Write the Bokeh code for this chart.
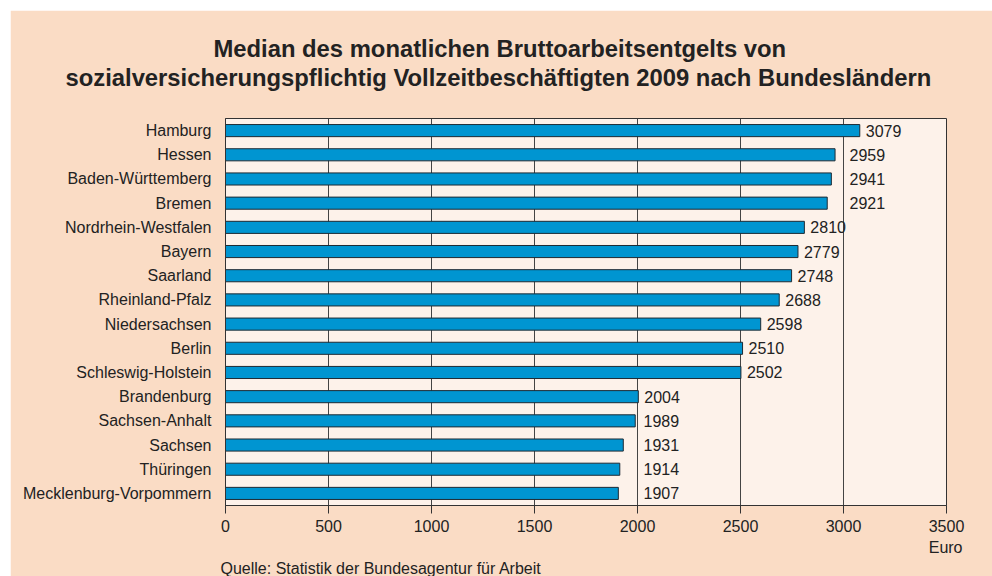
from bokeh.plotting import figure
from bokeh.models import ColumnDataSource, Title, FactorRange
from bokeh.core.properties import value
from bokeh.embed import file_html
from bokeh.resources import INLINE

states = ["Hamburg", "Hessen", "Baden-Württemberg", "Bremen", "Nordrhein-Westfalen",
          "Bayern", "Saarland", "Rheinland-Pfalz", "Niedersachsen", "Berlin",
          "Schleswig-Holstein", "Brandenburg", "Sachsen-Anhalt", "Sachsen",
          "Thüringen", "Mecklenburg-Vorpommern"]
values = [3079, 2959, 2941, 2921, 2810, 2779, 2748, 2688, 2598, 2510,
          2502, 2004, 1989, 1931, 1914, 1907]
x_ticks = [0, 500, 1000, 1500, 2000, 2500, 3000, 3500]
title_lines = ["Median des monatlichen Bruttoarbeitsentgelts von",
               "sozialversicherungspflichtig Vollzeitbeschäftigten 2009 nach Bundesländern"]
x_unit = "Euro"
source_note = "Quelle: Statistik der Bundesagentur für Arbeit"

# value label anchor: moved past a nearby gridline if the text would collide with it
label_x = []
for v in values:
    lx = v
    for g in x_ticks:
        if 0 < g - v < 150:
            lx = g
    label_x.append(lx)

src = ColumnDataSource(dict(state=states, value=values, lx=label_x,
                            txt=[str(v) for v in values]))

FONT = "Liberation Sans"
PEACH = "#fadcc5"
PLOTBG = "#fdf2ea"
DARK = "#333333"
TXT = "#222222"

OFF = 10
W, H = 992 - OFF, 576 - OFF
FL, FR, FT, FB = 225, 946, 118, 506

p = figure(width=W, height=H, y_range=FactorRange(*states[::-1]),
           x_range=(0, x_ticks[-1]), output_backend="svg", toolbar_location=None,
           title=None,
           min_border_left=FL - OFF, min_border_right=992 - FR,
           min_border_top=FT - OFF, min_border_bottom=576 - FB,
           margin=(OFF, 0, 0, OFF))
p.background_fill_color = PLOTBG
p.border_fill_color = PEACH
p.outline_line_color = DARK
p.outline_line_width = 1

p.hbar(y="state", right="value", left=0, height=0.5, source=src,
       fill_color="#0095d1", line_color="#1e2a33", line_width=1)
p.text(x="lx", y="state", text="txt", source=src, x_offset=6,
       text_baseline="middle", text_align="left", text_font=value(FONT),
       text_font_size="16px", text_color=TXT)

p.ygrid.visible = False
p.xgrid.grid_line_color = "#444444"
p.xgrid.grid_line_width = 1
p.xgrid.level = "underlay"

p.xaxis.ticker = x_ticks
p.xaxis.minor_tick_line_color = None
p.xaxis.major_tick_in = 0
p.xaxis.major_tick_out = 8
p.xaxis.major_tick_line_color = DARK
p.xaxis.axis_line_color = DARK
p.xaxis.major_label_text_font = FONT
p.xaxis.major_label_text_font_size = "16px"
p.xaxis.major_label_text_color = TXT
p.xaxis.major_label_standoff = 6

p.yaxis.major_tick_line_color = None
p.yaxis.minor_tick_line_color = None
p.yaxis.axis_line_color = DARK
p.yaxis.major_label_text_font = FONT
p.yaxis.major_label_text_font_size = "16px"
p.yaxis.major_label_text_color = TXT
p.yaxis.major_label_standoff = 8

# above panel, nearest to the frame first: spacer, title line 2, title line 1
p.add_layout(Title(text=" ", text_font_size="1px", standoff=25), "above")
p.add_layout(Title(text=title_lines[1], align="left", offset=65 - FL,
                   text_font=FONT, text_font_size="23.8px", text_font_style="bold",
                   text_color=TXT, standoff=0), "above")
p.add_layout(Title(text=title_lines[0], align="left", offset=213 - FL,
                   text_font=FONT, text_font_size="23.8px", text_font_style="bold",
                   text_color=TXT, standoff=0), "above")

p.add_layout(Title(text=x_unit, align="right", offset=FR - 962,
                   text_font=FONT, text_font_size="16px", text_font_style="normal",
                   text_color=TXT, standoff=4), "below")
p.add_layout(Title(text=source_note, align="left", offset=220 - FL,
                   text_font=FONT, text_font_size="16px", text_font_style="normal",
                   text_color=TXT, standoff=0), "below")

open("out.html", "w").write(file_html(p, INLINE))
